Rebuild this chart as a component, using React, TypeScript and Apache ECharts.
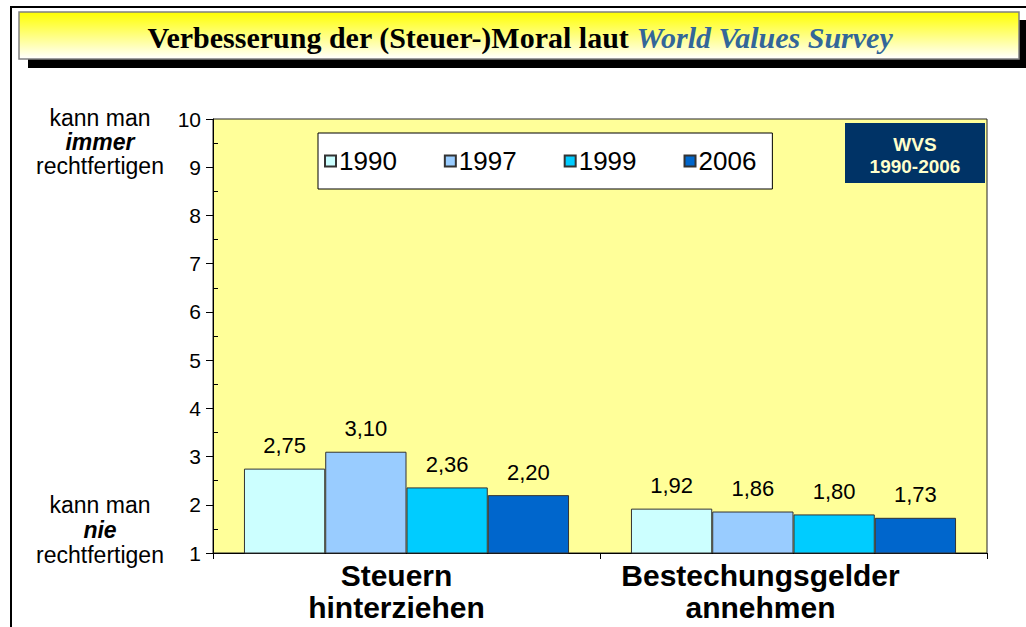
import React, { useEffect, useRef } from "react";
import * as echarts from "echarts";

const categories = ["Steuern\nhinterziehen", "Bestechungsgelder\nannehmen"];
const years = ["1990", "1997", "1999", "2006"];
const values1990 = [2.75, 1.92];
const values1997 = [3.1, 1.86];
const values1999 = [2.36, 1.8];
const values2006 = [2.2, 1.73];
const seriesValues = [values1990, values1997, values1999, values2006];
const colors = ["#CCFFFF", "#99CCFF", "#00CCFF", "#0066CC"];
const yMin = 1;
const yMax = 10;
const yInterval = 1;

const SANS = "'Liberation Sans', Arial, sans-serif";
const SERIF = "'Liberation Serif', 'Times New Roman', serif";

export default function App() {
  const ref = useRef<HTMLDivElement>(null);
  useEffect(() => {
    if (!ref.current) return;
    const chart = echarts.init(ref.current, undefined, { renderer: "svg" });
    const W = 1000;
    const H = 47;
    const L2 = W * W + H * H;
    const k = (2 * W * H) / L2;
    const gx2 = (H * k) / W;
    const gy2 = (W * k) / H;
    const catLabel = {
      fontFamily: SANS,
      fontSize: 30,
      fontWeight: "bold",
      color: "#000",
      lineHeight: 32,
    };
    const option: any = {
      animation: false,
      backgroundColor: "#FFFFFF",
      grid: {
        left: 213,
        top: 119,
        right: 39,
        bottom: 74,
        show: true,
        backgroundColor: "#FFFF99",
        borderColor: "#222222",
        borderWidth: 1,
      },
      legend: {
        data: years,
        left: 318,
        top: 133,
        backgroundColor: "#FFFFFF",
        borderColor: "#000000",
        borderWidth: 1,
        padding: [15, 16, 15, 6],
        itemWidth: 11,
        itemHeight: 11,
        itemGap: 47,
        icon: "rect",
        textStyle: { fontFamily: SANS, fontSize: 26, color: "#000", padding: [0, 0, 0, -2] },
      },
      xAxis: {
        type: "category",
        data: categories,
        axisLine: { lineStyle: { color: "#000", width: 1 } },
        axisTick: { show: true, length: 6, lineStyle: { color: "#000" } },
        axisLabel: {
          ...catLabel,
          interval: 0,
          hideOverlap: false,
          margin: 6,
          formatter: (v: string, i: number) => {
            const key = i === 0 ? "a" : "b";
            return v
              .split("\n")
              .map((line) => `{${key}|${line}}`)
              .join("\n");
          },
          rich: {
            a: { ...catLabel, padding: [0, 20, 0, 0] },
            b: { ...catLabel, padding: [0, 66, 0, 0] },
          },
        },
      },
      yAxis: [
        {
          type: "value",
          min: yMin,
          max: yMax,
          interval: yInterval,
          axisLine: { show: true, lineStyle: { color: "#000", width: 1 } },
          axisTick: { show: true, length: 7, lineStyle: { color: "#000" } },
          splitLine: { show: false },
          axisLabel: { fontFamily: SANS, fontSize: 21, color: "#000", margin: 12 },
        },
        {
          type: "value",
          position: "left",
          offset: 0,
          min: yMin,
          max: yMax,
          interval: yInterval,
          axisLine: { show: false },
          axisTick: { show: false, inside: true, length: 5 },
          minorTick: { show: true, splitNumber: 2, length: 5, lineStyle: { color: "#000" } },
          splitLine: { show: false },
          axisLabel: { show: false },
        },
      ],
      series: years.map((y, i) => ({
        name: y,
        type: "bar",
        data: seriesValues[i],
        yAxisIndex: 0,
        barCategoryGap: "16%",
        barGap: "0%",
        itemStyle: { color: colors[i], borderColor: "#333333", borderWidth: 1 },
        label: {
          show: true,
          position: "top",
          distance: 12,
          fontFamily: SANS,
          fontSize: 22,
          color: "#000",
          formatter: (p: any) => p.value.toFixed(2).replace(".", ","),
        },
      })),
      graphic: [
        { type: "line", shape: { x1: 10, y1: 7, x2: 1026, y2: 7 }, style: { stroke: "#000", lineWidth: 2 }, z: 10 },
        { type: "line", shape: { x1: 11, y1: 6, x2: 11, y2: 627 }, style: { stroke: "#000", lineWidth: 2 }, z: 10 },
        { type: "rect", shape: { x: 28, y: 20, width: 1000, height: 48 }, style: { fill: "#000" }, z: 10 },
        {
          type: "rect",
          shape: { x: 19, y: 12, width: W, height: H },
          style: {
            fill: new echarts.graphic.LinearGradient(0, 0, gx2, gy2, [
              { offset: 0, color: "#FFFF00" },
              { offset: 0.5, color: "#FFFFFF" },
              { offset: 1, color: "#FFFF00" },
            ]),
            stroke: "#808080",
            lineWidth: 1.5,
          },
          z: 11,
        },
        {
          type: "text",
          x: 520,
          y: 37,
          z: 12,
          style: {
            text: "{a|Verbesserung der (Steuer-)Moral laut }{b|World Values Survey}",
            align: "center",
            verticalAlign: "middle",
            rich: {
              a: { fontFamily: SERIF, fontSize: 30, fontWeight: "bold", fill: "#000" },
              b: { fontFamily: SERIF, fontSize: 30, fontWeight: "bold", fontStyle: "italic", fill: "#336699" },
            },
          },
        },
        { type: "rect", shape: { x: 845, y: 123, width: 140, height: 60 }, style: { fill: "#003366" }, z: 10 },
        {
          type: "text",
          x: 915,
          y: 155,
          z: 11,
          style: {
            text: "WVS\n1990-2006",
            align: "center",
            verticalAlign: "middle",
            fontFamily: SANS,
            fontSize: 19,
            fontWeight: "bold",
            lineHeight: 22,
            fill: "#FFFFCC",
          },
        },
        {
          type: "text",
          x: 100,
          y: 142,
          z: 10,
          style: {
            text: "{n|kann man}\n{i|immer}\n{n|rechtfertigen}",
            align: "center",
            verticalAlign: "middle",
            rich: {
              n: { fontFamily: SANS, fontSize: 23, fill: "#000", lineHeight: 24 },
              i: { fontFamily: SANS, fontSize: 23, fontWeight: "bold", fontStyle: "italic", fill: "#000", lineHeight: 24 },
            },
          },
        },
        {
          type: "text",
          x: 100,
          y: 530,
          z: 10,
          style: {
            text: "{n|kann man}\n{i|nie}\n{n|rechtfertigen}",
            align: "center",
            verticalAlign: "middle",
            rich: {
              n: { fontFamily: SANS, fontSize: 23, fill: "#000", lineHeight: 25 },
              i: { fontFamily: SANS, fontSize: 23, fontWeight: "bold", fontStyle: "italic", fill: "#000", lineHeight: 25 },
            },
          },
        },
      ],
    };
    chart.setOption(option);
    return () => chart.dispose();
  }, []);
  return (
    <div
      ref={ref}
      style={{ position: "absolute", left: 0, top: 0, width: 1026, height: 627 }}
    />
  );
}
